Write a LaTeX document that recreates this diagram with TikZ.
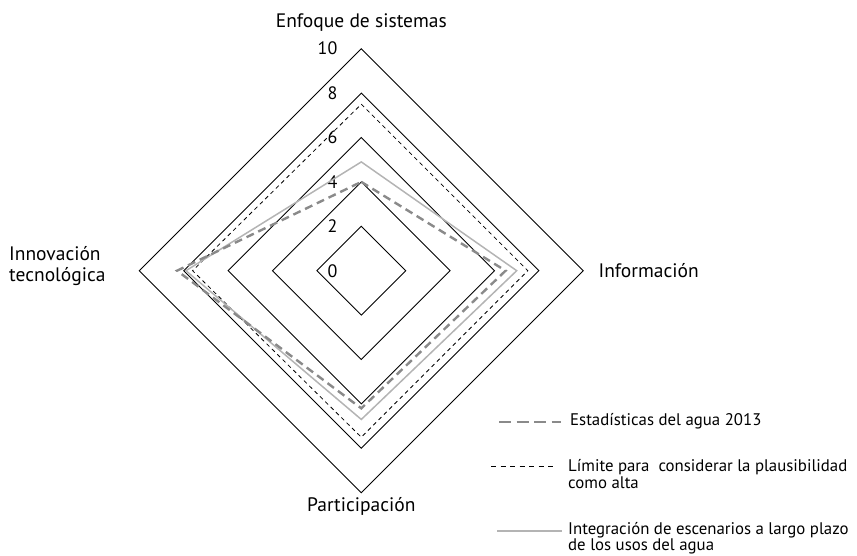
\documentclass[tikz,border=0pt]{standalone}
\usepackage{fontspec}
\setmainfont{PT Sans}
\usepackage{tikz}
\usetikzlibrary{positioning}

\definecolor{estgray}{RGB}{138,138,138}
\definecolor{intgray}{RGB}{180,180,180}

\tikzset{
  axislabel/.style={font=\fontsize{19.5}{21}\selectfont, inner sep=0pt},
  ticklabel/.style={font=\fontsize{18}{20}\selectfont, inner sep=0pt, anchor=east},
  legtext/.style={font=\fontsize{16.8}{14.5}\selectfont, inner sep=0pt, anchor=west, align=left},
  grid/.style={black, line width=0.9pt, line join=miter},
  estad/.style={estgray, line width=2.4pt, dash pattern=on 8pt off 5pt},
  limite/.style={black, line width=0.8pt, dash pattern=on 4pt off 3.5pt},
  integr/.style={intgray, line width=1.5pt}
}

\begin{document}
\begin{tikzpicture}[x=1pt,y=-1pt]
  \useasboundingbox (0,0) rectangle (857,556);

  \begin{scope}[shift={(361.3,270.7)}, x=22.2pt, y=22.2pt]
    % rejilla
    \foreach \r in {2,4,...,10}
      \draw[grid] (0,\r) -- (\r,0) -- (0,-\r) -- (-\r,0) -- cycle;
    \foreach \r in {0,2,...,10}
      \node[ticklabel] (t\r) at (-1.07,\r) {\r};

    % series
    \draw[limite] (0,7.5) -- (7.5,0) -- (0,-7.5) -- (-7.6,0) -- cycle;
    \draw[integr] (0,4.9) -- (7,0) -- (0,-6.7) -- (-7.9,0) -- cycle;
    \draw[estad] (0,4) -- (6.5,0) -- (0,-6.2) -- (-8.3,0) -- cycle;

    % ejes
    \node[axislabel] (enfoque) at (0,11.2) {Enfoque de sistemas};
    \node[axislabel, anchor=west] (info) at (10.68,0) {Información};
    \node[axislabel] (partic) at (0,-10.6) {Participación};
  \end{scope}

  \node[axislabel, anchor=west, align=left] (innov) at (9,266.5)
    {Innovación\\tecnológica};

  % leyenda
  \coordinate (ea) at (499,422);
  \coordinate (eb) at (561,422);
  \node[legtext] (legEst) at (570,421) {Estadísticas del agua 2013};
  \draw[estad, dash pattern=on 12pt off 5.5pt] (ea) -- (eb);

  \coordinate (la) at (491,466);
  \coordinate (lb) at (557,466);
  \node[legtext] (legLim) at (568,474)
    {Límite para \ considerar la plausibilidad\\como alta};
  \draw[limite, dash pattern=on 5pt off 4.5pt] (la) -- (lb);

  \coordinate (ia) at (497,531);
  \coordinate (ib) at (562,531);
  \node[legtext] (legInt) at (568,538)
    {Integración de escenarios a largo plazo\\de los usos del agua};
  \draw[integr] (ia) -- (ib);
\end{tikzpicture}
\end{document}
